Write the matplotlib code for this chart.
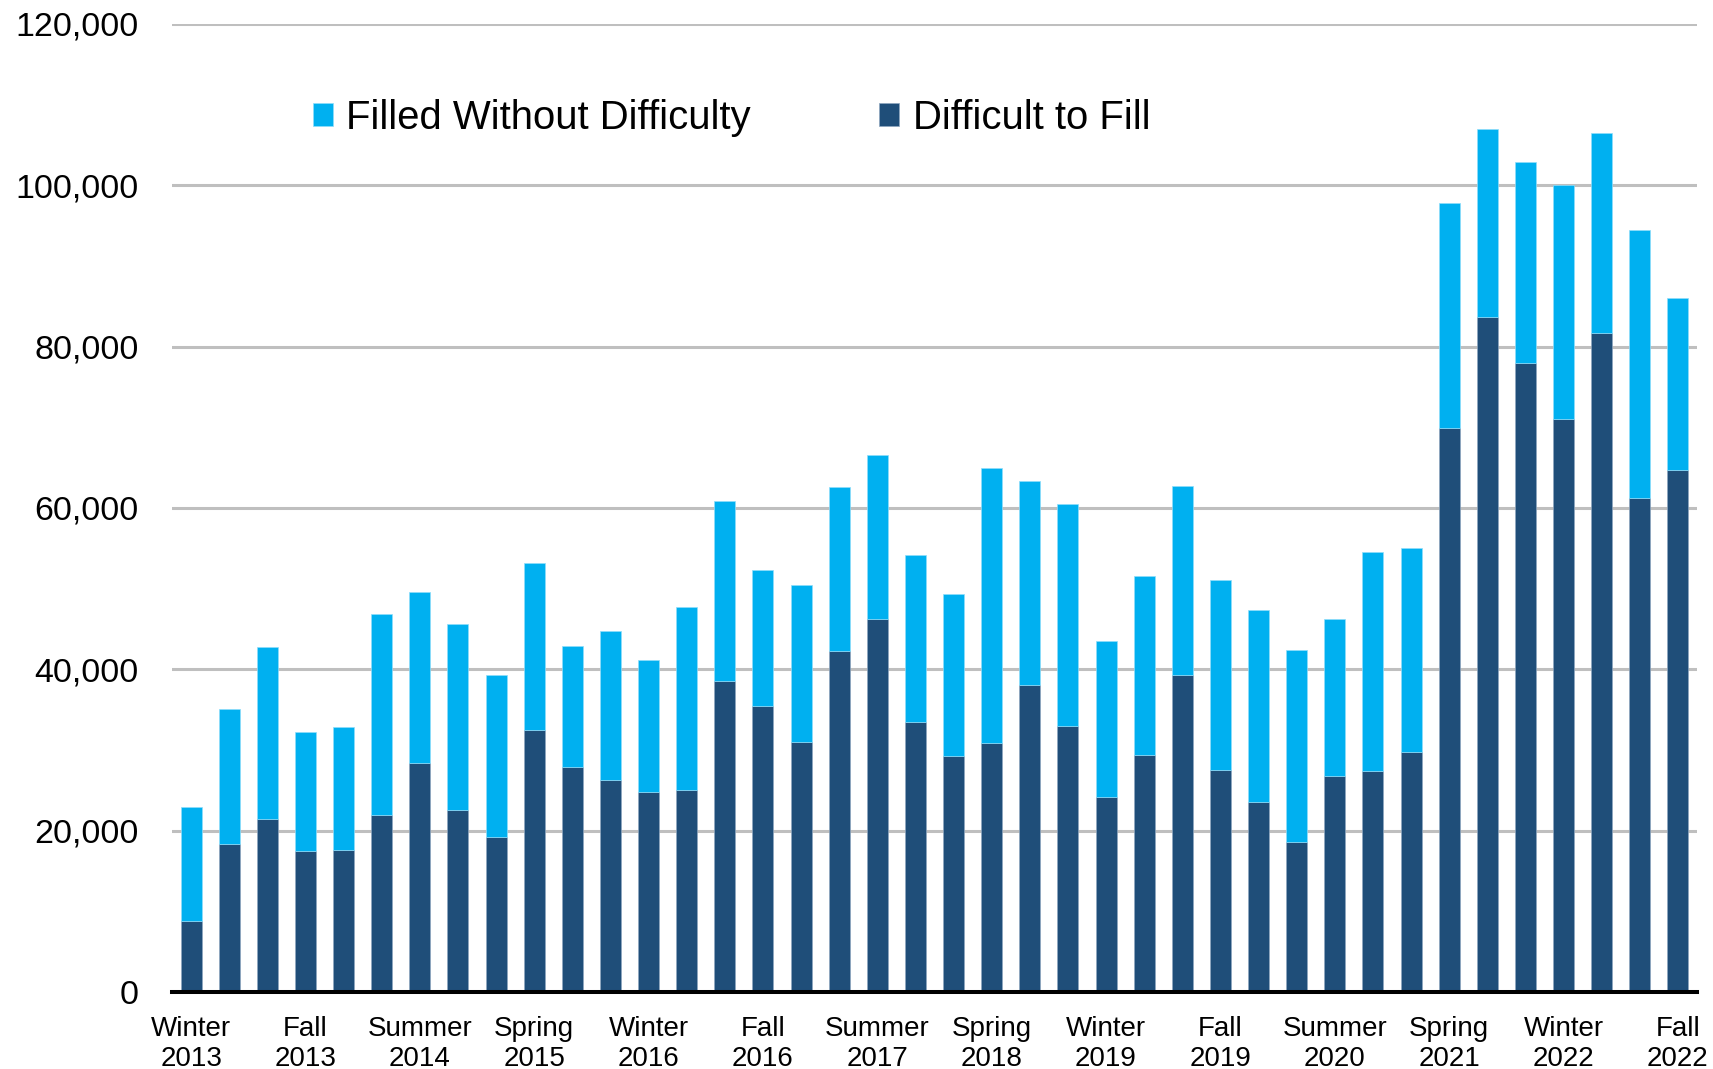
import matplotlib.pyplot as plt
from matplotlib.ticker import FuncFormatter

plt.rcParams['font.family'] = ['Liberation Sans', 'DejaVu Sans']

# job vacancies per quarter, Winter 2013 .. Fall 2022
difficult_to_fill = [
    8800, 18300, 21400, 17500, 17600, 21900, 28400, 22600, 19200, 32500,
    27900, 26300, 24800, 25100, 38600, 35400, 31000, 42300, 46200, 33500,
    29300, 30900, 38100, 33000, 24200, 29400, 39300, 27500, 23600, 18600,
    26800, 27400, 29800, 69900, 83700, 78000, 71000, 81700, 61200, 64700,
]
filled_without_difficulty = [
    14100, 16800, 21400, 14700, 15200, 25000, 21200, 23000, 20100, 20700,
    15000, 18500, 16400, 22600, 22300, 16900, 19400, 20300, 20400, 20700,
    20000, 34100, 25300, 27500, 19300, 22200, 23400, 23600, 23800, 23800,
    19500, 27200, 25300, 27900, 23300, 24900, 29100, 24800, 33300, 21300,
]
tick_labels = [
    "Winter\n2013", "Fall\n2013", "Summer\n2014", "Spring\n2015",
    "Winter\n2016", "Fall\n2016", "Summer\n2017", "Spring\n2018",
    "Winter\n2019", "Fall\n2019", "Summer\n2020", "Spring\n2021",
    "Winter\n2022", "Fall\n2022",
]

LIGHT = "#00B0F0"
DARK = "#1F4E79"

fig = plt.figure(figsize=(17.13, 10.69), dpi=100)
ax = fig.add_axes([172 / 1713, 1 - 992 / 1069, 1525 / 1713, 968 / 1069])

x = list(range(len(difficult_to_fill)))
ax.bar(x, difficult_to_fill, width=0.55, color=DARK, edgecolor="#8FA7C0",
       linewidth=0.5, label="Difficult to Fill", zorder=3)
ax.bar(x, filled_without_difficulty, width=0.55, bottom=difficult_to_fill,
       color=LIGHT, edgecolor="#8FDDFA", linewidth=0.5,
       label="Filled Without Difficulty", zorder=3)

ax.set_xlim(-0.5, len(x) - 0.5)
ax.set_ylim(0, 120000)
ax.set_yticks(range(0, 120001, 20000))
ax.yaxis.set_major_formatter(FuncFormatter(lambda v, p: f"{int(v):,}"))
ax.set_xticks(x[::3])
ax.set_xticklabels(tick_labels, linespacing=1.2)

ax.grid(axis="y", color="#BFBFBF", linewidth=2.2, zorder=0)
ax.tick_params(axis="y", length=0, pad=24, labelsize=24.5)
ax.tick_params(axis="x", length=0, pad=17, labelsize=20)
for s in ["top", "right", "left"]:
    ax.spines[s].set_visible(False)
ax.spines["bottom"].set_linewidth(2.9)
ax.spines["bottom"].set_zorder(4)

handles, labels = ax.get_legend_handles_labels()
ax.legend(handles[::-1], labels[::-1], ncol=2, frameon=False,
          loc="center left", bbox_to_anchor=(313 / 1713, 1 - 118 / 1069),
          bbox_transform=fig.transFigure, fontsize=28.9,
          handlelength=0.5, handleheight=0.5, handletextpad=0.33,
          columnspacing=3.2, borderpad=0, borderaxespad=0)

fig.savefig("out.png", dpi=100)
